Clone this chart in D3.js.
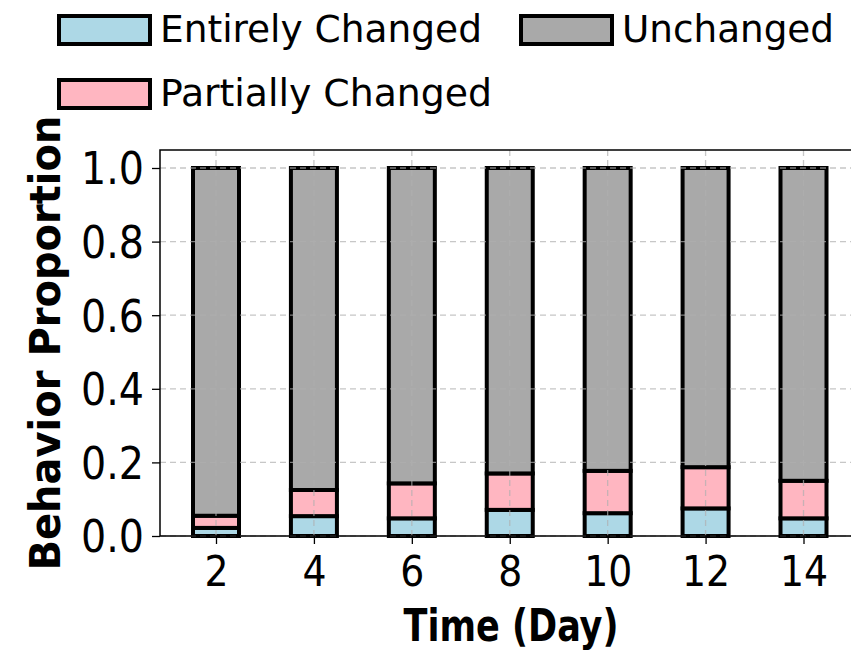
<!DOCTYPE html>
<html>
<head>
<meta charset="utf-8">
<script src="https://cdn.jsdelivr.net/npm/d3@7"></script>
<style>
  body { margin: 0; background: #fff; }
  svg { display: block; font-family: "Liberation Sans Narrow", "DejaVu Sans Condensed", "Open Sans", sans-serif; }
</style>
</head>
<body>
<div id="chart"></div>
<script>
// Data
var days = [2, 4, 6, 8, 10, 12, 14];
var entirely = [0.022, 0.054, 0.048, 0.071, 0.062, 0.075, 0.048];
var partially = [0.033, 0.071, 0.095, 0.099, 0.115, 0.112, 0.102];
var unchanged = [0.945, 0.875, 0.857, 0.830, 0.823, 0.813, 0.850];
var yTicks = [0.0, 0.2, 0.4, 0.6, 0.8, 1.0];
var seriesNames = ["Entirely Changed", "Partially Changed", "Unchanged"];
var seriesColors = ["#add8e6", "#ffb6c1", "#a9a9a9"];

var width = 851, height = 653;
var svg = d3.select("#chart").append("svg")
    .attr("width", width)
    .attr("height", height);

var plotLeft = 160, plotBottom = 536, plotTop = 150;

var x = d3.scaleLinear().domain([2, 14]).range([216, 803.5]);
var y = d3.scaleLinear().domain([0, 1]).range([plotBottom, 168]);

// stacked table
var table = days.map(function (d, i) {
    return { day: d, e: entirely[i], p: partially[i], u: unchanged[i] };
});
var stack = d3.stack().keys(["e", "p", "u"])(table);

var barW = 46;

// bars
var layers = svg.append("g").selectAll("g")
    .data(stack)
    .enter().append("g")
    .attr("fill", function (d, i) { return seriesColors[i]; });

layers.selectAll("rect")
    .data(function (d) { return d; })
    .enter().append("rect")
    .attr("x", function (d) { return x(d.data.day) - barW / 2; })
    .attr("y", function (d) { return y(d[1]); })
    .attr("width", barW)
    .attr("height", function (d) { return y(d[0]) - y(d[1]); })
    .attr("stroke", "#000")
    .attr("stroke-width", 4);

// grid on top of bars
var grid = svg.append("g")
    .attr("stroke", "#b0b0b0")
    .attr("stroke-dasharray", "6,4")
    .attr("stroke-width", 1.3)
    .attr("opacity", 0.7);
grid.selectAll("line.h")
    .data(yTicks)
    .enter().append("line")
    .attr("x1", plotLeft).attr("x2", width)
    .attr("y1", function (d) { return y(d); })
    .attr("y2", function (d) { return y(d); });
grid.selectAll("line.v")
    .data(days)
    .enter().append("line")
    .attr("x1", function (d) { return x(d); })
    .attr("x2", function (d) { return x(d); })
    .attr("y1", plotTop).attr("y2", plotBottom);

// axes
var yAxis = svg.append("g")
    .attr("transform", "translate(" + plotLeft + ",0)")
    .call(d3.axisLeft(y).tickValues(yTicks).tickFormat(d3.format(".1f")).tickSize(8).tickPadding(8));
var xAxis = svg.append("g")
    .attr("transform", "translate(0," + plotBottom + ")")
    .call(d3.axisBottom(x).tickValues(days).tickSize(8).tickPadding(8));

[yAxis, xAxis].forEach(function (a) {
    a.select(".domain").remove();
    a.selectAll(".tick line").attr("stroke", "#000").attr("stroke-width", 1.3);
    a.selectAll(".tick text")
        .attr("fill", "#000")
        .style("font-family", "'Liberation Sans Narrow', 'DejaVu Sans Condensed', sans-serif");
});
yAxis.selectAll(".tick text").style("font-size", "44px").attr("dy", "0.36em");
xAxis.selectAll(".tick text").style("font-size", "42px").attr("dy", "0.8em");

// frame (right side is cropped off)
svg.append("path")
    .attr("d", "M" + width + "," + plotTop + "H" + plotLeft + "V" + plotBottom + "H" + width)
    .attr("fill", "none")
    .attr("stroke", "#000")
    .attr("stroke-width", 1.5);

// axis titles
svg.append("text")
    .attr("transform", "translate(60,343) rotate(-90)")
    .attr("text-anchor", "middle")
    .attr("textLength", 455)
    .attr("lengthAdjust", "spacingAndGlyphs")
    .style("font-size", "42px")
    .style("font-weight", "bold")
    .text("Behavior Proportion");

svg.append("text")
    .attr("x", 511).attr("y", 641)
    .attr("text-anchor", "middle")
    .attr("textLength", 215)
    .attr("lengthAdjust", "spacingAndGlyphs")
    .style("font-size", "44px")
    .style("font-weight", "bold")
    .text("Time (Day)");

// legend
var legendPos = [
    { px: 57, py: 14, len: 322 },
    { px: 57, py: 78, len: 332 },
    { px: 519, py: 14, len: 212 }
];
var legend = svg.append("g").selectAll("g")
    .data(seriesNames)
    .enter().append("g")
    .attr("transform", function (d, i) { return "translate(" + legendPos[i].px + "," + legendPos[i].py + ")"; });
legend.append("rect")
    .attr("x", 2).attr("y", 2)
    .attr("width", 91).attr("height", 28)
    .attr("fill", function (d, i) { return seriesColors[i]; })
    .attr("stroke", "#000")
    .attr("stroke-width", 4);
legend.append("text")
    .attr("x", 103).attr("y", 28)
    .attr("textLength", function (d, i) { return legendPos[i].len; })
    .attr("lengthAdjust", "spacingAndGlyphs")
    .style("font-size", "37px")
    .text(function (d) { return d; });
</script>
</body>
</html>
